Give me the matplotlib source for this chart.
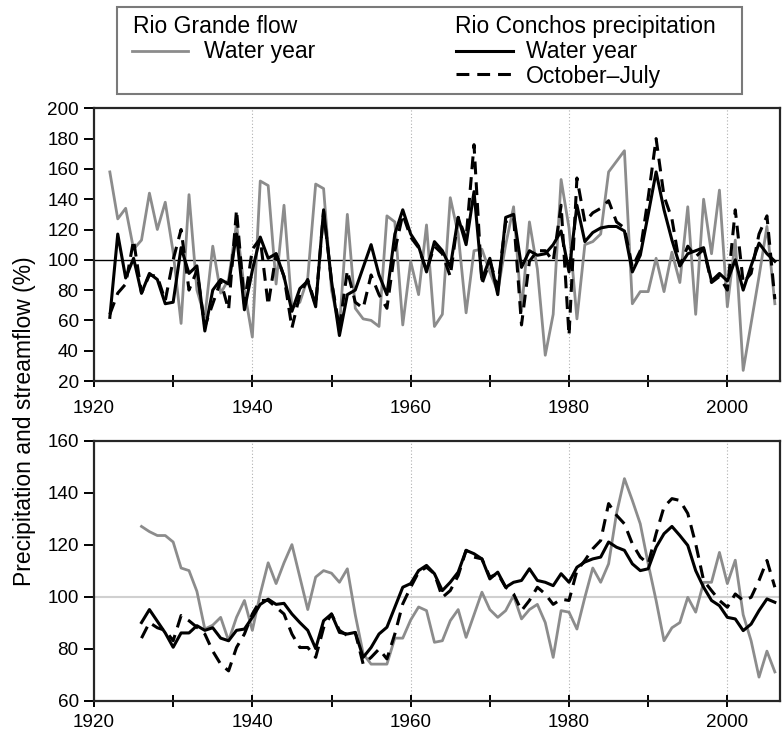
import matplotlib
matplotlib.use("Agg")
import matplotlib.pyplot as plt
from matplotlib.lines import Line2D
from matplotlib.patches import Rectangle
from matplotlib.ticker import MultipleLocator

plt.rcParams['font.family'] = ['Liberation Sans', 'DejaVu Sans']

# ---------------- data ----------------
years_annual = list(range(1922, 2007))
flow_annual = [158, 127, 134, 107, 113, 144, 120, 138, 105, 58,
               143, 80, 62, 109, 78, 87, 124, 80, 49, 152,
               149, 84, 136, 68, 72, 88, 150, 147, 80, 55,
               130, 68, 61, 60, 56, 129, 125, 57, 99, 77,
               123, 56, 64, 141, 117, 65, 106, 107, 92, 79,
               110, 135, 66, 125, 94, 37, 64, 153, 121, 61,
               110, 112, 117, 158, 165, 172, 71, 79, 79, 101,
               79, 105, 85, 135, 64, 140, 104, 146, 69, 113,
               27, 58, 89, 122, 71]
precip_wy_annual = [62, 117, 88, 101, 78, 91, 87, 71, 72, 108,
                    91, 96, 53, 80, 87, 84, 117, 67, 93, 115,
                    101, 104, 89, 66, 81, 86, 69, 133, 86, 50,
                    77, 80, 95, 110, 90, 77, 117, 133, 117, 109,
                    92, 112, 106, 95, 128, 110, 145, 87, 101, 77,
                    128, 130, 95, 106, 103, 104, 110, 119, 92, 136,
                    112, 118, 121, 122, 122, 119, 92, 103, 130, 158,
                    133, 113, 96, 104, 106, 108, 86, 91, 86, 100,
                    80, 96, 111, 104, 99]
precip_oj_annual = [64, 78, 84, 113, 78, 90, 89, 73, 100, 120,
                    80, 93, 56, 71, 86, 67, 133, 71, 107, 114,
                    70, 104, 89, 55, 77, 87, 70, 132, 86, 55,
                    93, 72, 68, 90, 77, 68, 106, 130, 115, 108,
                    93, 109, 104, 89, 128, 114, 176, 84, 99, 82,
                    125, 128, 57, 99, 106, 106, 99, 136, 50, 154,
                    125, 131, 134, 139, 125, 121, 95, 106, 141, 180,
                    142, 127, 96, 109, 102, 107, 85, 89, 80, 133,
                    85, 91, 117, 129, 74]

years_smooth = list(range(1926, 2007))
flow_smooth = [127, 125, 123.5, 123.5, 121, 111, 110, 102, 87.5, 89,
               92, 83, 92, 98.5, 87, 101, 113, 105, 113, 120,
               107.5, 95, 107.5, 110, 109, 105.5, 110.7, 93, 78, 74,
               74, 74, 84, 84, 91, 96, 94.6, 82.4, 83, 90.7,
               95, 84.3, 93, 101.7, 95, 92, 94.6, 100.4, 91.4, 95,
               97, 90, 76.6, 94.6, 94, 87.5, 99.7, 111, 105.5, 112.6,
               132, 145.4, 137, 128, 112.6, 98.5, 83, 88, 90, 99.7,
               94, 105.5, 105.5, 117, 105, 114, 93, 83, 69, 79, 71]
precip_wy_smooth = [90, 95, 90.5, 86, 80.5, 86, 86, 88.8, 87, 88,
                    84, 83, 87, 87.5, 92, 97, 99, 97, 97.4, 93.3,
                    90, 87, 80, 90.7, 93.3, 86.2, 85.6, 86.2, 76.6, 80.4,
                    85.6, 88.2, 95.9, 103.6, 105, 110, 112, 108.8, 102.3, 105.5,
                    109.4, 117.8, 116.5, 114.5, 106.8, 109.4, 103.6, 105.5, 106.2, 110.7,
                    106.2, 105.5, 104.2, 108.8, 105.5, 111.3, 113.3, 114.5, 115.2, 121,
                    119, 117.8, 112.6, 110, 110.7, 119, 124.2, 127, 123.5, 119.7,
                    110, 103.6, 98.5, 96.5, 92, 91.4, 86.9, 89.4, 94.6, 99.1, 97.8]
precip_oj_smooth = [84, 90, 88, 87, 83, 92.7, 90.7, 88.2, 85.6, 79,
                    74, 71.4, 80.4, 85.6, 93.3, 98.5, 98.5, 95.9, 93.3, 85.6,
                    80.4, 80.4, 76.6, 88, 93.3, 87, 85, 86.2, 74, 76.6,
                    79.8, 76, 85.6, 97.2, 103.6, 109.4, 111.3, 108.8, 99.7, 102.3,
                    108.1, 117.8, 115.2, 114.5, 107.5, 108.8, 103.6, 101, 94.6, 98.5,
                    103.6, 101, 97, 99, 98.5, 110, 113.9, 118.4, 121.6, 135.8,
                    131.3, 128, 120.3, 115.2, 112.6, 124.2, 134.5, 137.7, 137, 132,
                    120.3, 106.2, 102.3, 98.5, 95.9, 101, 98.5, 99.7, 106.2, 113.9, 103.6]

xticks_major = [1920, 1940, 1960, 1980, 2000]
ylabel_text = "Precipitation and streamflow (%)"
legend_title_flow = "Rio Grande flow"
legend_title_precip = "Rio Conchos precipitation"
legend_wy = "Water year"
legend_oj = "October\u2013July"

# ---------------- styling ----------------
W, H = 782, 736
GRAY = '#8c8c8c'
DASH = (0, (4.2, 2.6))
FS_TICK = 13.6
FS_TEXT = 16.5

fig = plt.figure(figsize=(W / 100, H / 100), dpi=100)

def px_rect(l, t, r, b):
    return [l / W, 1 - b / H, (r - l) / W, (b - t) / H]

ax1 = fig.add_axes(px_rect(94, 108.3, 780, 381))
ax2 = fig.add_axes(px_rect(94, 440.7, 780, 700.5))

for ax, yr, fl, wy, oj, ylim, ystep, hcol, xpad in [
        (ax1, years_annual, flow_annual, precip_wy_annual, precip_oj_annual, (20, 200), 20, 'black', 9),
        (ax2, years_smooth, flow_smooth, precip_wy_smooth, precip_oj_smooth, (60, 160), 20, '#d0d0d0', 5)]:
    for g in xticks_major[1:]:
        ax.axvline(g, color='#b0b0b0', lw=0.8, ls=(0, (1, 2)), zorder=1)
    ax.axhline(100, color=hcol, lw=1.0 if hcol == 'black' else 1.5, zorder=1)
    ax.plot(yr, fl, color=GRAY, lw=2.0, zorder=2)
    ax.plot(yr, wy, color='black', lw=2.2, zorder=3)
    ax.plot(yr, oj, color='black', lw=2.2, ls=DASH, zorder=4)
    ax.set_xlim(1920, 2006.65)
    ax.set_ylim(*ylim)
    ax.yaxis.set_major_locator(MultipleLocator(ystep))
    ax.set_xticks(xticks_major)
    ax.set_xticklabels([str(v) for v in xticks_major])
    ax.xaxis.set_minor_locator(MultipleLocator(10))
    ax.tick_params(axis='x', which='both', direction='inout', length=9, width=1.4,
                   labelsize=FS_TICK, pad=xpad, top=False)
    ax.tick_params(axis='y', which='both', direction='out', length=7.5, width=1.4,
                   labelsize=FS_TICK, pad=3.5, right=False)
    for s in ax.spines.values():
        s.set_linewidth(1.6)
        s.set_color('#262626')

fig.text(25 / W, 1 - 421 / H, ylabel_text, rotation=90, ha='center', va='center',
         fontsize=FS_TEXT)

# legend box drawn manually
fig.add_artist(Rectangle((117 / W, 1 - 94 / H), (742 - 117) / W, (94 - 7.3) / H,
                         transform=fig.transFigure, fill=False, ec='#7a7a7a', lw=1.5))
row1, row2, row3 = 1 - 33.3 / H, 1 - 58.3 / H, 1 - 82.7 / H
fig.text(133 / W, row1, legend_title_flow, fontsize=FS_TEXT, va='baseline', ha='left')
fig.add_artist(Line2D([132 / W, 188 / W], [1 - 50.7 / H] * 2, transform=fig.transFigure,
                      color=GRAY, lw=2.0))
fig.text(204 / W, row2, legend_wy, fontsize=FS_TEXT, va='baseline', ha='left')
fig.text(455 / W, row1, legend_title_precip, fontsize=FS_TEXT, va='baseline', ha='left')
fig.add_artist(Line2D([456 / W, 513 / W], [1 - 50.7 / H] * 2, transform=fig.transFigure,
                      color='black', lw=2.2))
fig.text(526 / W, row2, legend_wy, fontsize=FS_TEXT, va='baseline', ha='left')
fig.add_artist(Line2D([456 / W, 513 / W], [1 - 74 / H] * 2, transform=fig.transFigure,
                      color='black', lw=2.2, ls=DASH))
fig.text(526 / W, row3, legend_oj, fontsize=FS_TEXT, va='baseline', ha='left')

fig.savefig("out.png", dpi=100)
